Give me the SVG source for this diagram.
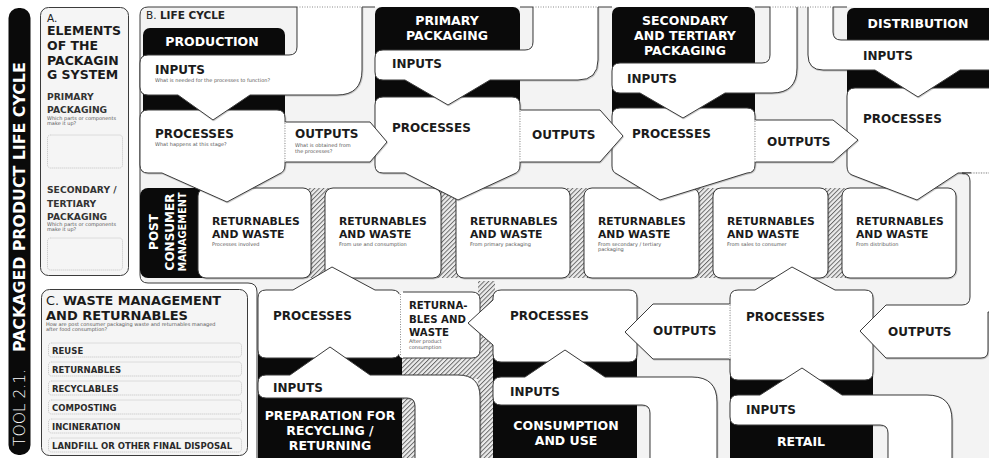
<svg xmlns="http://www.w3.org/2000/svg" width="989" height="458" viewBox="0 0 989 458">
<defs>
<style>
text{font-family:"DejaVu Sans","Liberation Sans",sans-serif}
.w{fill:#fff;stroke:#3b3b3b;stroke-width:1;filter:url(#ds)}
.k{fill:#0a0a0a}
.edge{fill:none;stroke:#3b3b3b;stroke-width:1}
.dot{fill:none;stroke:#8a8a8a;stroke-width:1;stroke-dasharray:1 1.5}
.wipe{stroke:#fff;stroke-width:1.8}
.lb{font-size:12px;font-weight:700;fill:#1b1b1b}
.hd{font-size:12.5px;font-weight:700;fill:#fff;text-anchor:middle}
.rw{font-size:10.8px;font-weight:700;fill:#1b1b1b}
.sm{font-size:5px;fill:#555}
.li{font-size:8.5px;font-weight:700;fill:#2a2a2a}
.slot{fill:none;stroke:#b5b5b5;stroke-width:0.8;stroke-dasharray:1 1}
.panel{fill:#f5f5f5;stroke:#3b3b3b;stroke-width:1}
.hatch{fill:url(#hatch)}
</style>
<pattern id="hatch" width="3.2" height="3.2" patternUnits="userSpaceOnUse" patternTransform="rotate(45)"><rect width="3.2" height="3.2" fill="#ececec"/><line x1="0.5" y1="0" x2="0.5" y2="3.2" stroke="#5e5e5e" stroke-width="0.9"/></pattern>
<filter id="ds" x="-5%" y="-5%" width="110%" height="115%"><feDropShadow dx="0.6" dy="0.8" stdDeviation="0.5" flood-color="#000" flood-opacity="0.25"/></filter>
</defs>

<!-- side title bar -->
<g id="title-bar">
<rect x="8.5" y="8" width="22" height="447" rx="10" class="k"/>
<g transform="translate(25,446) rotate(-90)">
<text x="0" y="0" font-size="15.5" font-weight="200" fill="#fff">TOOL 2.1.</text>
<text x="94" y="0" font-size="15.8" font-weight="700" fill="#fff">PACKAGED PRODUCT LIFE CYCLE</text>
</g>
</g>

<!-- A. elements of the packaging system -->
<g id="panel-a">
<rect class="panel" x="40.5" y="7.5" width="88" height="268" rx="8"/>
<text x="47" y="22" font-size="10.5" fill="#222">A.</text>
<text x="47" y="35" font-size="12.5" font-weight="700" fill="#1b1b1b">ELEMENTS</text>
<text x="47" y="50" font-size="12.5" font-weight="700" fill="#1b1b1b">OF THE</text>
<text x="47" y="64.5" font-size="12.5" font-weight="700" fill="#1b1b1b">PACKAGIN</text>
<text x="47" y="79" font-size="12.5" font-weight="700" fill="#1b1b1b">G SYSTEM</text>
<text x="47" y="100" font-size="9.2" font-weight="700" fill="#333">PRIMARY</text>
<text x="47" y="113" font-size="9.2" font-weight="700" fill="#333">PACKAGING</text>
<text x="47" y="119.5" class="sm">Which parts or components</text>
<text x="47" y="124.5" class="sm">make it up?</text>
<rect class="slot" x="47.5" y="135" width="75" height="33" rx="3"/>
<text x="47" y="193" font-size="9.2" font-weight="700" fill="#333">SECONDARY /</text>
<text x="47" y="206.5" font-size="9.2" font-weight="700" fill="#333">TERTIARY</text>
<text x="47" y="220" font-size="9.2" font-weight="700" fill="#333">PACKAGING</text>
<text x="47" y="226" class="sm">Which parts or components</text>
<text x="47" y="231" class="sm">make it up?</text>
<rect class="slot" x="47.5" y="238" width="75" height="32" rx="3"/>
</g>

<!-- C. waste management and returnables -->
<g id="panel-c">
<rect class="panel" x="41.5" y="289.5" width="206" height="166" rx="8"/>
<text x="46" y="305" font-size="12.8" fill="#1b1b1b"><tspan>C. </tspan><tspan font-weight="700">WASTE MANAGEMENT</tspan></text>
<text x="46" y="319.5" font-size="13" font-weight="700" fill="#1b1b1b">AND RETURNABLES</text>
<text x="46" y="326" class="sm" font-size="5.3">How are post consumer packaging waste and returnables managed</text>
<text x="46" y="331" class="sm" font-size="5.3">after food consumption?</text>
<rect class="slot" x="48.5" y="343" width="193" height="14" rx="3"/>
<rect class="slot" x="48.5" y="362" width="193" height="14" rx="3"/>
<rect class="slot" x="48.5" y="381" width="193" height="14" rx="3"/>
<rect class="slot" x="48.5" y="400" width="193" height="14" rx="3"/>
<rect class="slot" x="48.5" y="419" width="193" height="14" rx="3"/>
<rect class="slot" x="48.5" y="438" width="193" height="14" rx="3"/>
<text x="52" y="353.5" class="li">REUSE</text>
<text x="52" y="372.5" class="li">RETURNABLES</text>
<text x="52" y="391.5" class="li">RECYCLABLES</text>
<text x="52" y="410.5" class="li">COMPOSTING</text>
<text x="52" y="429.5" class="li">INCINERATION</text>
<text x="52" y="448.5" class="li">LANDFILL OR OTHER FINAL DISPOSAL</text>
</g>

<!-- B. life cycle board -->
<g id="board">
<path d="M148,7 H1000 V173 H970 V305 H1000 V470 H257 V292 Q257,283 248,283 H148 Q140,283 140,275 V15 Q140,7 148,7 Z" fill="#f3f3f3"/>
<path class="edge" d="M297,7 H148 Q140,7 140,15 V275 Q140,283 148,283 H248 Q257,283 257,292 V460"/>
<path class="edge" d="M362,7 H375 M520,7 H533 M598,7 H612 M755,7 H770 M833,7 H847"/>
<text x="146" y="19" font-size="10.5" fill="#222"><tspan>B. </tspan><tspan font-weight="700">LIFE CYCLE</tspan></text>
</g>

<!-- hatched return paths -->
<g id="hatching">
<rect class="hatch" x="303" y="188" width="30" height="90"/>
<rect class="hatch" x="433" y="188" width="31" height="90"/>
<rect class="hatch" x="562" y="188" width="30" height="90"/>
<rect class="hatch" x="691" y="188" width="30" height="90"/>
<rect class="hatch" x="820" y="188" width="30" height="90"/>
<rect class="hatch" x="478" y="281" width="17" height="180"/>
<rect class="hatch" x="398" y="352" width="97" height="27"/>
<rect class="hatch" x="399" y="352" width="18" height="110"/>
</g>

<!-- stage headers -->
<g id="production-header">
<rect x="143" y="28" width="142" height="122" rx="7" class="k"/>
<text x="212" y="46" class="hd">PRODUCTION</text>
</g>
<g id="primary-header">
<rect x="375" y="7" width="145" height="140" rx="7" class="k"/>
<text x="447" y="25" class="hd">PRIMARY</text>
<text x="447" y="40" class="hd">PACKAGING</text>
</g>
<g id="secondary-header">
<rect x="612" y="7" width="143" height="140" rx="7" class="k"/>
<text x="685" y="25" class="hd">SECONDARY</text>
<text x="685" y="40" class="hd">AND TERTIARY</text>
<text x="685" y="55" class="hd">PACKAGING</text>
</g>
<g id="distribution-header">
<rect x="847" y="8" width="160" height="140" rx="7" class="k"/>
<text x="918" y="28" class="hd">DISTRIBUTION</text>
</g>
<g id="preparation-header">
<rect x="258" y="335" width="144" height="140" rx="7" class="k"/>
<text x="330" y="419.5" class="hd">PREPARATION FOR</text>
<text x="330" y="435" class="hd">RECYCLING /</text>
<text x="330" y="450" class="hd">RETURNING</text>
</g>
<g id="consumption-header">
<rect x="493" y="335" width="144" height="140" rx="7" class="k"/>
<text x="566" y="430" class="hd">CONSUMPTION</text>
<text x="566" y="445" class="hd">AND USE</text>
</g>
<g id="retail-header">
<rect x="730" y="350" width="143" height="130" rx="7" class="k"/>
<text x="801" y="446" class="hd">RETAIL</text>
</g>

<!-- post consumer management row -->
<g id="post-consumer-tab">
<rect x="140" y="188" width="70" height="90" rx="8" class="k"/>
<text transform="translate(158,232) rotate(-90)" text-anchor="middle" font-size="12" font-weight="700" fill="#fff">POST</text>
<text transform="translate(174,232) rotate(-90)" text-anchor="middle" font-size="12" font-weight="700" fill="#fff">CONSUMER</text>
<text transform="translate(186,232) rotate(-90)" text-anchor="middle" font-size="9.8" font-weight="700" fill="#fff">MANAGEMENT</text>
</g>
<g id="waste-processes">
<rect class="w" x="198" y="188" width="113" height="90" rx="8"/>
<text x="212" y="225" class="rw">RETURNABLES</text>
<text x="212" y="238" class="rw">AND WASTE</text>
<text x="212" y="245.5" class="sm">Processes involved</text>
</g>
<g id="waste-consumption">
<rect class="w" x="325" y="188" width="116" height="90" rx="8"/>
<text x="339" y="225" class="rw">RETURNABLES</text>
<text x="339" y="238" class="rw">AND WASTE</text>
<text x="339" y="245.5" class="sm">From use and consumption</text>
</g>
<g id="waste-primary">
<rect class="w" x="456" y="188" width="114" height="90" rx="8"/>
<text x="470" y="225" class="rw">RETURNABLES</text>
<text x="470" y="238" class="rw">AND WASTE</text>
<text x="470" y="245.5" class="sm">From primary packaging</text>
</g>
<g id="waste-secondary">
<rect class="w" x="584" y="188" width="115" height="90" rx="8"/>
<text x="598" y="225" class="rw">RETURNABLES</text>
<text x="598" y="238" class="rw">AND WASTE</text>
<text x="598" y="245.5" class="sm">From secondary / tertiary</text>
<text x="598" y="250.5" class="sm">packaging</text>
</g>
<g id="waste-sales">
<rect class="w" x="713" y="188" width="115" height="90" rx="8"/>
<text x="727" y="225" class="rw">RETURNABLES</text>
<text x="727" y="238" class="rw">AND WASTE</text>
<text x="727" y="245.5" class="sm">From sales to consumer</text>
</g>
<g id="waste-distribution">
<rect class="w" x="842" y="188" width="114" height="90" rx="8"/>
<text x="856" y="225" class="rw">RETURNABLES</text>
<text x="856" y="238" class="rw">AND WASTE</text>
<text x="856" y="245.5" class="sm">From distribution</text>
</g>

<!-- processes, upper row -->
<g id="production-processes">
<path class="w" d="M148,110 H277 Q285,110 285,118 V165 Q285,172 279,174 L227,202 L162,173 H148 Q140,173 140,165 V118 Q140,110 148,110 Z"/>
<text x="155" y="138" class="lb">PROCESSES</text>
<text x="155" y="145.5" class="sm">What happens at this stage?</text>
</g>
<g id="primary-processes">
<path class="w" d="M383,97 H512 Q520,97 520,105 V165 Q520,172 514,174 L458,200 L405,173 H383 Q375,173 375,165 V105 Q375,97 383,97 Z"/>
<text x="392" y="132" class="lb">PROCESSES</text>
</g>
<g id="secondary-processes">
<path class="w" d="M620,108 H747 Q755,108 755,116 V165 Q755,173 747,173 L660,200 L617,174 Q612,172 612,166 V116 Q612,108 620,108 Z"/>
<text x="632" y="138" class="lb">PROCESSES</text>
</g>
<g id="distribution-processes">
<path class="w" d="M855,88 H1000 V173 H958 L917,200 L852,175 Q847,173 847,166 V96 Q847,88 855,88 Z"/>
<text x="863" y="123" class="lb">PROCESSES</text>
</g>

<!-- processes, lower row -->
<g id="preparation-processes">
<path class="w" d="M266,290 H293 L332,267 L375,290 H392 Q400,290 400,298 V350 Q400,358 392,358 H266 Q258,358 258,350 V298 Q258,290 266,290 Z"/>
<text x="273" y="320" class="lb">PROCESSES</text>
</g>
<g id="waste-after-consumption">
<path d="M403,292 H472 Q480,292 480,300 V350 Q480,358 472,358 H403 Q399,358 399,354 V296 Q399,292 403,292 Z" fill="#fff"/>
<path class="edge" d="M403,292 H472 Q480,292 480,300 V350 Q480,358 472,358 H403"/>
<text x="409" y="309" font-size="10.2" font-weight="700" fill="#1b1b1b">RETURNA-</text>
<text x="409" y="322.5" font-size="10.2" font-weight="700" fill="#1b1b1b">BLES AND</text>
<text x="409" y="335.5" font-size="10.2" font-weight="700" fill="#1b1b1b">WASTE</text>
<text x="409" y="342.5" class="sm">After product</text>
<text x="409" y="349" class="sm">consumption</text>
</g>
<g id="consumption-processes">
<path class="w" d="M501,290 H629 Q637,290 637,298 V354 Q637,362 629,362 H501 Q493,362 493,354 V345 L468,323 L493,300 V298 Q493,290 501,290 Z"/>
<text x="510" y="320" class="lb">PROCESSES</text>
</g>
<g id="retail-processes">
<path class="w" d="M738,290 H755 L792,267 L835,290 H865 Q873,290 873,298 V372 Q873,380 865,380 H738 Q730,380 730,372 V298 Q730,290 738,290 Z"/>
<text x="746" y="321" class="lb">PROCESSES</text>
</g>

<!-- outputs -->
<g id="production-outputs">
<path class="w" d="M285,122 H370 L387,142 L370,162 H285"/>
<text x="295" y="138" class="lb">OUTPUTS</text>
<text x="295" y="147" class="sm">What is obtained from</text>
<text x="295" y="153" class="sm">the processes?</text>
</g>
<g id="primary-outputs">
<path class="w" d="M520,110 H600 L623,136 L600,162 H520"/>
<text x="532" y="139" class="lb">OUTPUTS</text>
</g>
<g id="secondary-outputs">
<path class="w" d="M755,120 H833 L858,140 L833,162 H755"/>
<text x="767" y="146" class="lb">OUTPUTS</text>
</g>
<g id="distribution-outputs">
<path class="w" d="M1000,173 H962 Q970,173 970,181 V297 Q970,305 962,305 H886 L860,331 L886,358 H981 Q988,358 988,351 V312 H1000 Z"/>
<text x="888" y="336" class="lb">OUTPUTS</text>
</g>
<g id="retail-outputs">
<path class="w" d="M730,304 H653 L625,332 L653,359 H730"/>
<text x="653" y="335" class="lb">OUTPUTS</text>
</g>

<!-- inputs -->
<g id="production-inputs">
<path class="w" d="M297,7 V47 Q297,55 289,55 H148 Q140,55 140,63 V87 Q140,95 148,95 H178 L213,120 L250,95 H337 Q362,95 362,70 V7"/>
<text x="155" y="74" class="lb">INPUTS</text>
<text x="155" y="82" class="sm">What is needed for the processes to function?</text>
</g>
<g id="primary-inputs">
<path class="w" d="M533,7 V42 Q533,50 525,50 H383 Q375,50 375,58 V72 Q375,80 383,80 H405 L448,105 L490,80 H578 Q598,80 598,60 V7"/>
<text x="392" y="68" class="lb">INPUTS</text>
</g>
<g id="secondary-inputs">
<path class="w" d="M770,7 V55 Q770,63 762,63 H620 Q612,63 612,71 V85 Q612,93 620,93 H640 L683,118 L725,93 H772 Q797,93 797,68 V7"/>
<text x="627" y="83" class="lb">INPUTS</text>
</g>
<g id="distribution-inputs">
<path class="w" d="M833,7 V32 Q833,40 841,40 H1000 V70 H960 L918,97 L875,70 H823 Q808,70 808,55 V7"/>
<text x="863" y="60" class="lb">INPUTS</text>
</g>
<g id="preparation-inputs">
<path class="w" d="M415,462 V406 Q415,398 407,398 H266 Q258,398 258,390 V383 Q258,375 266,375 H290 L330,347 L370,375 H458 Q480,375 480,397 V462"/>
<text x="273" y="392" class="lb">INPUTS</text>
</g>
<g id="consumption-inputs">
<path class="w" d="M650,462 V413 Q650,405 642,405 H501 Q493,405 493,397 V385 Q493,377 501,377 H525 L565,350 L605,377 H692 Q717,377 717,402 V462"/>
<text x="510" y="396" class="lb">INPUTS</text>
</g>
<g id="retail-inputs">
<path class="w" d="M888,462 V433 Q888,425 880,425 H738 Q730,425 730,417 V403 Q730,395 738,395 H760 L802,368 L842,395 H927 Q952,395 952,420 V462"/>
<text x="746" y="414" class="lb">INPUTS</text>
</g>

<!-- open joins between attached shapes -->
<g id="connectors">
<line class="wipe" x1="285" y1="122.6" x2="285" y2="161.4"/>
<line class="wipe" x1="520" y1="110.6" x2="520" y2="161.4"/>
<line class="wipe" x1="755" y1="120.6" x2="755" y2="161.4"/>
<line class="wipe" x1="730" y1="304.6" x2="730" y2="358.4"/>
<line class="wipe" x1="971" y1="173" x2="989" y2="173"/>
<line class="dot" x1="285" y1="123" x2="285" y2="161"/>
<line class="dot" x1="520" y1="111" x2="520" y2="161"/>
<line class="dot" x1="755" y1="121" x2="755" y2="161"/>
<line class="dot" x1="730" y1="305" x2="730" y2="358"/>
<line class="dot" x1="400.5" y1="294" x2="400.5" y2="356"/>
<line class="dot" x1="971" y1="173" x2="989" y2="173"/>
<path class="dot" d="M297,7 H362 M533,7 H598 M770,7 H833"/>
</g>
</svg>
